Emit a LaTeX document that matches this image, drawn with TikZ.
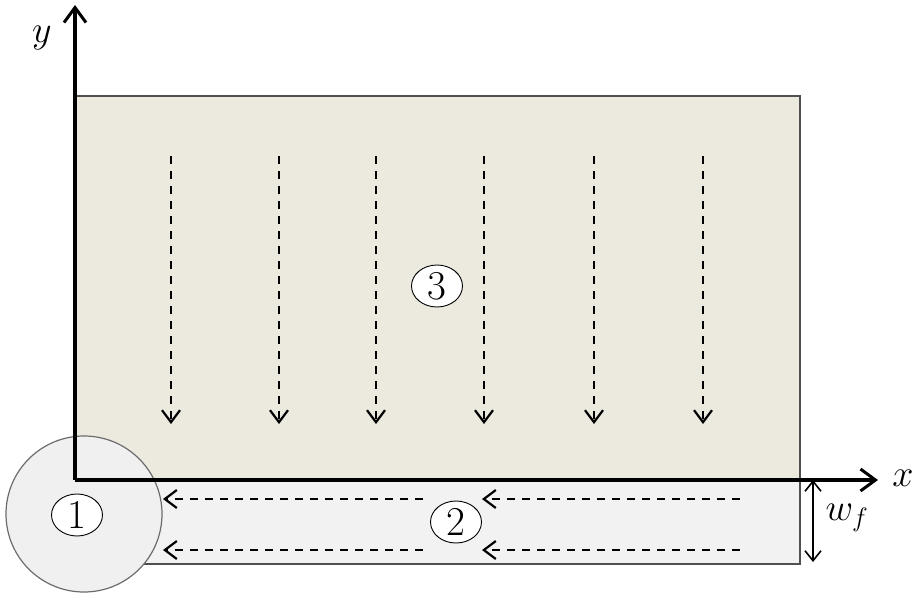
\RequirePackage{fix-cm}
\documentclass[tikz,border=0pt]{standalone}
\usetikzlibrary{arrows.meta,shapes.geometric}
\definecolor{beige}{HTML}{ECE9DF}
\definecolor{lowgray}{HTML}{F2F2F2}
\definecolor{circgray}{HTML}{F0F0F0}
\definecolor{edgegray}{HTML}{505050}
\tikzset{
  axis/.style={line width=3.5pt,-{Straight Barb[length=15pt,width=22pt,line width=3pt]}},
  flow/.style={line width=2.4pt,dash pattern=on 8pt off 7pt,-{Straight Barb[length=12pt,width=18pt,line width=2.2pt]}},
  zone/.style={draw=black,fill=white,ellipse,inner sep=0pt,minimum width=51pt,minimum height=42pt,line width=0.9pt,font=\fontsize{41}{44}\selectfont},
  lbl/.style={font=\fontsize{38}{42}\selectfont}
}
\begin{document}
\begin{tikzpicture}[x=1pt,y=-1pt]
\useasboundingbox (0,0) rectangle (914,595);
% regions
\draw[fill=beige,draw=edgegray,line width=1.3pt] (75,96) rectangle (800,480);
\draw[fill=lowgray,draw=edgegray,line width=1.3pt] (84,480) rectangle (800,564);
\draw[fill=circgray,draw=gray!85!black,line width=1.2pt] (84,514) circle (78);
% axes
\coordinate (O) at (75,480);
\coordinate (ytip) at (75,5);
\coordinate (xtip) at (878,480);
\draw[axis] (O) -- (ytip);
\draw[axis] (O) -- (xtip);
\node[lbl] (ylab) at (42,38) {$y$};
\node[lbl] (xlab) at (903,478) {$x$};
% vertical flow arrows
\foreach \i/\x in {1/171,2/279,3/376,4/484,5/594,6/703}{
  \coordinate (vs\i) at (\x,156);
  \coordinate (ve\i) at (\x,424);
  \draw[flow] (vs\i) -- (ve\i);
}
% horizontal flow arrows
\foreach \i/\y in {1/499,2/550}{
  \coordinate (ha\i) at (423,\y);
  \coordinate (hb\i) at (163,\y);
  \coordinate (hc\i) at (740,\y);
  \coordinate (hd\i) at (482,\y);
  \draw[flow] (ha\i) -- (hb\i);
  \draw[flow] (hc\i) -- (hd\i);
}
% width marker
\coordinate (wa) at (813,480);
\coordinate (wb) at (813,562);
\draw[line width=1.8pt,{Straight Barb[length=10pt,width=16pt,line width=1.6pt]}-{Straight Barb[length=10pt,width=16pt,line width=1.6pt]}] (wa) -- (wb);
\node[lbl] (wlab) at (847,518) {$w_f$};
% zone labels
\node[zone] (z1) at (77,515) {1};
\node[zone] (z2) at (456,522) {2};
\node[zone] (z3) at (437,286) {3};
\end{tikzpicture}
\end{document}
